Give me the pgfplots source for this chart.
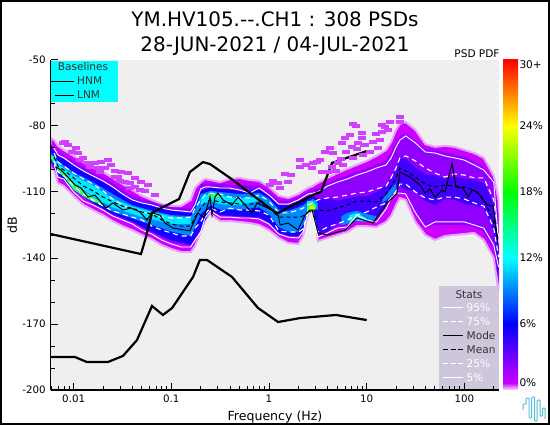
\documentclass[border=0pt]{standalone}
\usepackage{pgfplots}
\usepackage{pgfplotstable}
\usepackage{fontspec}
\setmainfont{DejaVu Sans}
\pgfplotsset{compat=1.18}
\definecolor{cPale}{HTML}{E8A0FF}
\definecolor{cMag}{HTML}{CC00FF}
\definecolor{cSpk}{HTML}{D040FF}
\definecolor{cVio}{HTML}{9000FF}
\definecolor{cBlu}{HTML}{1400FF}
\definecolor{cBl2}{HTML}{4000FF}
\definecolor{cDod}{HTML}{0088FF}
\definecolor{cCya}{HTML}{00E8FF}
\definecolor{cGre}{HTML}{30FF70}
\definecolor{cYel}{HTML}{E0FF00}
\definecolor{cBg}{HTML}{EFEFEF}
\definecolor{cStat}{HTML}{CCC5DA}
\definecolor{cLogo}{HTML}{55BCD8}
\definecolor{cDark}{HTML}{333333}
\definecolor{cBox}{RGB}{0,255,255}

% percentile statistics: frequency, 95, 75, mean, 25, 5 (dB)
\pgfplotstableread{
f p95 p75 mean p25 p5
0.00631 -90 -92.3 -94.1 -95.9 -97.7
0.0069 -93.2 -96.4 -98.2 -100.9 -103.2
0.00794 -94.5 -98.2 -100 -102.7 -104.1
0.01 -97.7 -101.4 -103.6 -107.3 -110
0.0126 -100.5 -104.1 -107.3 -110.9 -114.1
0.0158 -102.7 -106.4 -109.5 -113.6 -115.9
0.02 -105 -109.5 -112.3 -116.4 -118.2
0.0251 -107.7 -113.2 -114.5 -118.6 -120.9
0.0316 -110.9 -115.9 -116.4 -120 -122.7
0.0398 -113.6 -117.7 -117.3 -121.4 -124.5
0.0501 -115 -119.1 -119.1 -122.7 -127.3
0.0631 -115.9 -120 -120 -125.5 -129.1
0.0794 -117.3 -121.4 -122.7 -127.3 -131.8
0.1 -118.2 -121.8 -124.5 -128.6 -133.6
0.126 -118.6 -121.8 -125.5 -130 -135
0.158 -119.1 -121.4 -125.5 -130 -135
0.175 -115.9 -117.3 -121.4 -126.4 -131.8
0.2 -108.6 -113.6 -117.3 -123.6 -128.2
0.221 -107.7 -111.4 -115 -120 -121.8
0.251 -107.7 -110.5 -113.6 -117.3 -118.6
0.316 -108.2 -110.9 -114.5 -119.1 -121.4
0.398 -108.2 -112.3 -115 -117.3 -121.4
0.501 -109.1 -112.7 -115.5 -118.2 -121.8
0.631 -110.5 -112.7 -115.5 -118.2 -121.8
0.794 -108.2 -111.4 -115 -118.6 -122.3
1 -111.4 -114.1 -117.3 -120.5 -124.5
1.26 -115.5 -119.5 -121.4 -127.7 -129.1
1.58 -115.5 -119.5 -121.4 -128.2 -130.5
2 -113.6 -118.2 -121.4 -128.2 -130.9
2.23 -112.3 -117.3 -120.9 -126.8 -128.2
2.51 -110.9 -115.9 -119.1 -118.5 -119.1
2.82 -110.5 -115 -118.2 -119.5 -120.5
3.16 -110 -113.6 -118.2 -128.2 -130.5
3.98 -107.3 -112.7 -118.6 -125.9 -128.6
5.01 -105.5 -112.3 -117.3 -124.5 -126.4
6.31 -104.1 -111.4 -115.9 -122.7 -125.9
7.94 -102.3 -110.5 -114.1 -120.5 -120.5
10 -100.9 -110 -114.1 -119.1 -122.7
12.6 -99.1 -108.6 -114.5 -116.8 -123.6
15.8 -97.7 -107.3 -110.9 -115 -117.7
17.8 -94.5 -103.6 -107.3 -112.7 -112.7
20 -89.5 -99.1 -103.6 -109.5 -110.5
21.9 -86.4 -94.5 -99.1 -106.4 -110.5
25.1 -84.5 -93.6 -100.5 -106.4 -110.9
31.6 -87.7 -95.9 -103.2 -110 -119.5
39.8 -91.8 -99.1 -106.4 -112.7 -125.9
50.1 -92.3 -101.4 -107.7 -113.6 -123.6
63.1 -93.6 -103.2 -106.8 -112.3 -123.6
79.4 -94.5 -101.8 -107.3 -112.3 -123.6
100 -95.5 -102.3 -107.7 -113.2 -123.6
126 -97.7 -103.6 -109.1 -115 -125
158 -100 -103.6 -113.2 -116.4 -126.4
200 -105.5 -113.6 -123.6 -126.4 -134.1
224 -133.2 -130.5 -131.8 -139.5 -144.1
}\tabStat

\pgfplotstableread{
f db
0.00659 -98.6
0.00741 -100
0.00874 -103.2
0.0103 -106.8
0.0119 -108.2
0.014 -112.3
0.0165 -111.4
0.0214 -117.3
0.0252 -115
0.032 -118.2
0.0386 -117.3
0.0478 -119.1
0.0563 -122.7
0.0634 -119.5
0.0765 -120.5
0.0861 -124.1
0.104 -126.4
0.155 -127.7
0.187 -119.5
0.216 -121.8
0.249 -112.3
0.261 -120.5
0.28 -112.3
0.301 -110.5
0.338 -113.6
0.418 -115.9
0.482 -112.3
0.67 -119.5
0.753 -115
1.07 -118.2
1.24 -120.5
1.3 -125
1.57 -124.1
1.98 -127.3
2.34 -120.5
2.63 -118.2
2.76 -118.2
3.18 -128.6
3.93 -129.5
6 -127.3
6.75 -125
7.96 -121.8
11.6 -124.1
16.2 -115
20.5 -110.5
21.9 -100.9
27.8 -103.2
35.2 -106.8
39.6 -110.5
44.5 -108.6
50.1 -112.3
59.1 -109.1
63.4 -110
74.8 -96.8
82.2 -107.7
97 -108.2
109 -112.3
120 -109.1
135 -110
171 -115.9
197 -116.4
221 -133.2
}\tabMode

\pgfplotstableread{
f db
0.00582 -129.1
0.0489 -138.2
0.055 -130.5
0.0634 -119.5
0.0713 -118.2
0.12 -113.2
0.155 -100.9
0.211 -96.4
0.249 -97.3
0.399 -103.6
1.15 -119.1
1.24 -119.5
3.1 -110.5
3.41 -110
4.42 -96.8
10 -91.4
}\tabHNM

\pgfplotstableread{
f db
0.00582 -185
0.0103 -185
0.0137 -187.3
0.0224 -187.3
0.032 -184.5
0.0445 -177.3
0.0634 -161.8
0.082 -165.9
0.102 -162.7
0.167 -148.6
0.196 -140.9
0.232 -140.9
0.418 -148.6
0.771 -162.7
1.24 -169.1
2.08 -167.3
4.85 -165.9
10 -168.2
}\tabLNM

% scattered low-probability PDF cells above the main body
\pgfplotstableread{
f db
0.00815 -87.3
0.00874 -88.6
0.0106 -90
0.0111 -92.3
0.0125 -94.5
0.014 -96.8
0.0165 -96.8
0.0191 -96.4
0.0224 -95.5
0.0241 -97.7
0.0177 -99.1
0.0305 -100.9
0.036 -101.4
0.0284 -103.2
0.0425 -103.6
0.0489 -105.5
0.0577 -106.8
0.0335 -105.5
0.0425 -107.7
0.00776 -87.7
0.0096 -91.8
0.0116 -95.5
0.0147 -98.6
0.0186 -100.9
0.0209 -99.1
0.0265 -100.5
0.0265 -103.2
0.0298 -105
0.0377 -105.9
0.0377 -108.2
0.0478 -109
0.0537 -109.5
0.068 -111.4
1.02 -106.8
1.24 -105.9
1.1 -105
1.3 -108.2
1.46 -101.8
1.68 -102.3
1.57 -105.5
2.08 -98.6
2.39 -97.7
2.82 -96.8
2.08 -95.5
2.76 -99.1
3.1 -96.4
3.33 -95.5
3.74 -91.8
4.22 -90
4.52 -92.3
5.6 -87.7
6 -85.5
6.75 -84.1
7.25 -79.1
7.78 -80
7.08 -89.5
8.15 -87.7
8.96 -85.5
8.96 -83.2
11.6 -87.3
13.7 -86.4
14.4 -82.7
16.6 -81.8
15.4 -80.5
17.3 -78.2
21.9 -75.9
21.9 -78.2
14.4 -79.5
10.8 -91.8
9.18 -93.2
7.25 -94.5
5.72 -97.7
5.09 -96.8
4.42 -98.6
3.49 -100.9
6.15 -91.8
13.1 -90
4 -101
4.8 -100.5
5.5 -95
8 -90.5
9.5 -88.5
12.5 -83.5
}\tabSpeck

% density regions as closed outlines: frequency, dB
\pgfplotstableread{
f db
0.00582 -85.5
0.00631 -86.4
0.0069 -89
0.00794 -90.9
0.01 -93.6
0.0126 -96.4
0.0158 -98.6
0.02 -100.9
0.0251 -103.6
0.0316 -106.4
0.0398 -109.1
0.0501 -111.8
0.0631 -113.6
0.0794 -115.5
0.1 -116.4
0.126 -116.4
0.158 -113.6
0.175 -108.2
0.2 -105.5
0.221 -104.1
0.251 -104.5
0.316 -105.5
0.398 -104.1
0.501 -103.6
0.631 -104.5
0.794 -105
1 -107.7
1.26 -111.8
1.58 -112.7
2 -110.9
2.23 -109.5
2.51 -108.2
2.82 -107.3
3 -106.5
3.16 -105.9
3.98 -103.6
5.01 -101.4
6.31 -99.5
7.94 -97.7
10 -95.9
12.6 -93.6
15.8 -90.9
17.8 -87.3
20 -81.8
21.9 -79
25.1 -78.2
31.6 -81.8
39.8 -88.2
50.1 -89.5
63.1 -89
79.4 -89.5
100 -90.9
126 -92.3
158 -94.5
200 -102.7
224 -113.6
224 -155.5
200 -140
158 -131.8
126 -128.6
100 -129.1
79.4 -129.5
63.1 -130
50.1 -131.8
39.8 -129.5
31.6 -123.6
25.1 -113.6
21.9 -112.7
20 -115.9
17.8 -120.9
15.8 -123.6
12.6 -125.9
10 -125.5
7.94 -125.5
6.31 -128.2
5.01 -129.5
3.98 -130.9
3.16 -132.3
3 -122
2.82 -119.5
2.51 -120
2.23 -130
2 -133.6
1.58 -133.2
1.26 -130.9
1 -127.3
0.794 -125
0.631 -124.1
0.501 -123.6
0.398 -123.2
0.316 -123.2
0.251 -120
0.221 -122.7
0.2 -128.2
0.175 -134.5
0.158 -137.3
0.126 -137.3
0.1 -135.9
0.0794 -134.1
0.0631 -131.4
0.0501 -129.5
0.0398 -127.3
0.0316 -125.5
0.0251 -123.2
0.02 -120.5
0.0158 -118.2
0.0126 -115.9
0.01 -111.8
0.00794 -107.3
0.0069 -105.9
0.00631 -100
0.00582 -99
}\tabE

\pgfplotstableread{
f db
0.00582 -88.2
0.0069 -91.8
0.01 -96
0.0158 -101.4
0.0251 -106
0.0398 -112
0.0631 -114.5
0.1 -117
0.158 -117.5
0.175 -113
0.2 -106.5
0.251 -106
0.316 -106.5
0.501 -107
0.794 -107
1 -110
1.26 -114
1.58 -114
2 -112.5
2.23 -111
2.51 -110
2.82 -109
3.16 -108.5
3.98 -106
5.01 -104
6.31 -102.5
7.94 -100.5
10 -99.5
12.6 -97.5
15.8 -95.5
17.8 -92
20 -87.5
21.9 -84.5
25.1 -83.5
31.6 -86.5
39.8 -90.5
50.1 -91
63.1 -92
100 -94
126 -96
158 -99
200 -104.5
224 -120
224 -150
200 -136
158 -128
126 -126
100 -125
63.1 -125
50.1 -125
39.8 -126
31.6 -120
25.1 -111
21.9 -110.5
20 -110.5
17.8 -113
15.8 -118
12.6 -124
10 -123
7.94 -122
6.31 -126
5.01 -126.5
3.98 -128.5
3.16 -130.5
2.82 -119.5
2.51 -119
2.23 -128
2 -131
1.58 -130.5
1.26 -129
1 -124.5
0.794 -122
0.501 -121.5
0.316 -121
0.251 -118.2
0.2 -127.5
0.175 -131.5
0.158 -134.5
0.1 -133
0.0631 -128.6
0.0398 -124
0.0251 -120.5
0.0158 -115.5
0.01 -109.5
0.0069 -102.7
0.00582 -97
}\tabV

\pgfplotstableread{
f db
0.00582 -90
0.0069 -93.5
0.01 -98
0.0158 -103
0.0251 -108
0.0398 -113.5
0.0631 -116
0.1 -118.5
0.158 -119.5
0.175 -116
0.2 -109.5
0.251 -108
0.316 -108.5
0.501 -109.5
0.794 -109
1 -112
1.26 -116
1.58 -116
2 -114.5
2.23 -113.5
2.51 -113
2.82 -112
3.16 -113
3.16 -130
2.82 -119.5
2.51 -119
2.23 -127.5
2 -130
1.58 -130
1.26 -128.5
1 -124
0.794 -121.5
0.501 -121
0.316 -120.5
0.251 -118
0.2 -127
0.175 -131
0.158 -134
0.1 -132
0.0631 -128
0.0398 -123.5
0.0251 -120
0.0158 -115
0.01 -109
0.0069 -102
0.00582 -95
}\tabBa

\pgfplotstableread{
f db
3.16 -113
3.98 -113
5.01 -114
6.31 -113
7.94 -112
10 -112
12.6 -110
15.8 -107
17.8 -104
20 -100
21.9 -94.5
25.1 -95
31.6 -99
39.8 -102
50.1 -102.5
63.1 -104
79.4 -103
100 -104
126 -104.5
158 -106
200 -115
224 -130
224 -152
200 -128
158 -117
126 -116
100 -115.5
79.4 -113.5
63.1 -113
50.1 -116
39.8 -114
31.6 -109.5
25.1 -109
21.9 -107
20 -109
17.8 -112
15.8 -116.5
12.6 -122
10 -122
7.94 -120.5
6.31 -123
5.01 -124
3.98 -128
3.16 -130
}\tabBb

\pgfplotstableread{
f db
0.00582 -92
0.0069 -96
0.01 -101
0.0158 -105.5
0.0251 -111
0.0398 -116
0.0631 -118.5
0.1 -120.5
0.158 -121
0.175 -118
0.2 -111
0.251 -109.5
0.316 -110
0.501 -111
0.794 -110.5
1 -113
1.26 -118
1.58 -118.5
2 -117
2.23 -116
2.51 -114.5
2.82 -113
3.16 -115
3.16 -118
2.82 -119
2.51 -118
2.23 -125
2 -128
1.58 -128
1.26 -126
1 -120
0.794 -117
0.501 -118
0.316 -118
0.251 -116
0.2 -120
0.175 -126
0.158 -130
0.1 -128
0.0631 -125
0.0398 -122
0.0251 -119
0.0158 -114
0.01 -108
0.0069 -100
0.00582 -95
}\tabD

\pgfplotstableread{
f db
5.5 -121
6.31 -119.5
7.94 -118.5
10 -120
12.6 -121
12.6 -122.5
10 -123
7.94 -122.5
6.31 -124.5
5.5 -125
}\tabDb

\pgfplotstableread{
f db
14.5 -113.5
17.8 -108.5
20 -106
20 -108.5
17.8 -112
14.5 -115
}\tabDc

\pgfplotstableread{
f db
0.00582 -93
0.0069 -97
0.01 -102.5
0.0158 -107
0.0251 -113
0.0398 -116.5
0.0631 -119
0.1 -121
0.158 -122
0.158 -124.5
0.1 -124.5
0.0631 -122.5
0.0398 -120
0.0251 -117
0.0158 -112
0.01 -106
0.0069 -100
0.00582 -94.5
}\tabCa

\pgfplotstableread{
f db
0.2 -113
0.251 -110.5
0.316 -111.5
0.501 -113
0.794 -112
0.794 -114
0.501 -116
0.316 -115.5
0.251 -114
0.2 -116
}\tabCb

\pgfplotstableread{
f db
2.45 -114
2.82 -114
3.05 -116
3.05 -117
2.82 -118
2.45 -117
}\tabCc

\pgfplotstableread{
f db
6.6 -120.5
7.94 -119.5
10 -122
10 -123.5
7.94 -123
6.6 -123.5
}\tabCd

\pgfplotstableread{
f db
0.00582 -93.5
0.0065 -94
0.0065 -95
0.00582 -95
}\tabGa

\pgfplotstableread{
f db
0.0069 -99
0.00794 -100.5
0.01 -106
0.0126 -109.5
0.0158 -112.5
0.02 -114.5
0.02 -115.5
0.0158 -114.5
0.0126 -112
0.01 -109
0.00794 -103
0.0069 -101
}\tabGb

\pgfplotstableread{
f db
2.45 -115
2.75 -114.5
3 -116
3 -118
2.75 -119
2.45 -118.5
}\tabGc

\pgfplotstableread{
f db
0.24 -110.5
0.28 -110.5
0.31 -112
0.31 -113
0.28 -113
0.24 -112
}\tabGd

\pgfplotstableread{
f db
2.6 -116.5
2.8 -116
2.95 -117
2.95 -118
2.8 -118.5
2.6 -118
}\tabY

\newcommand{\band}[2]{%
  \addplot[fill=#2,draw=none,forget plot] table[x=f,y=db]{#1} -- cycle;
}
\newcommand{\PX}[2]{(rel axis cs:{(#1-50.7)/448.6},{(390-#2)/330})}
\newcommand{\sz}{\fontsize{10.6}{12}\selectfont}
\definecolor{cb0}{RGB}{250,225,255}
\definecolor{cb1}{RGB}{204,0,255}
\definecolor{cb2}{RGB}{0,0,255}
\definecolor{cb3}{RGB}{0,255,255}
\definecolor{cb4}{RGB}{0,255,0}
\definecolor{cb5}{RGB}{255,255,0}
\definecolor{cb6}{RGB}{255,0,0}

\begin{document}
\begin{tikzpicture}
\path[use as bounding box] (-50.7bp,-35bp) rectangle (499.3bp,390bp);
\begin{axis}[
  scale only axis,
  width=448.6bp, height=330bp,
  xmode=log,
  xmin=0.00582, xmax=228,
  ymin=-200, ymax=-50,
  axis background/.style={fill=cBg},
  axis on top,
  axis line style={line width=1.4bp},
  axis x line*=bottom, axis y line*=left,
  tick align=inside,
  major tick length=7.5bp, minor tick length=4bp,
  tick style={black,line width=1bp},
  xtick={0.01,0.1,1,10,100},
  xticklabels={0.01,0.1,1,10,100},
  minor xtick={0.006,0.007,0.008,0.009,0.02,0.03,0.04,0.05,0.06,0.07,0.08,0.09,0.2,0.3,0.4,0.5,0.6,0.7,0.8,0.9,2,3,4,5,6,7,8,9,20,30,40,50,60,70,80,90,200},
  ytick={-200,-170,-140,-110,-80,-50},
  yticklabels={-200,-170,-140,-110,-80,-50},
  minor ytick={-190,-180,-160,-150,-130,-120,-100,-90,-70,-60},
  tick label style={font=\fontsize{10.3}{12}\selectfont},
  xticklabel style={yshift=-1.5bp},
  yticklabel style={xshift=-1.5bp},
  xlabel={Frequency (Hz)}, ylabel={dB},
  xlabel style={font=\fontsize{12.6}{14}\selectfont,at={(0.5,0)},anchor=north,yshift=-17bp},
  ylabel style={font=\fontsize{12.6}{14}\selectfont,at={(0,0.5)},anchor=south,yshift=30bp},
  title={YM.HV105.{-}{-}.CH1 : 308 PSDs\\28-JUN-2021 / 04-JUL-2021},
  title style={font=\fontsize{20}{25}\selectfont,align=center,at={(0.5,1)},anchor=south,inner sep=0pt,yshift=-1.5bp},
]
\addplot[fill=cMag,draw=cPale,line width=2bp,forget plot] table[x=f,y=db]{\tabE} -- cycle;
\addplot[only marks,color=cSpk,mark=square*,mark size=1.6bp,mark options={xscale=2.2,draw=cSpk,fill=cSpk,line width=0pt},forget plot] table[x=f,y=db]{\tabSpeck};
\band{\tabV}{cVio}
\band{\tabBa}{cBlu}
\band{\tabBb}{cBl2}
\band{\tabD}{cDod}
\band{\tabDb}{cDod}
\band{\tabDc}{cDod}
\band{\tabCa}{cCya}
\band{\tabCb}{cCya}
\band{\tabCc}{cCya}
\band{\tabCd}{cCya}
\band{\tabGa}{cGre}
\band{\tabGb}{cGre}
\band{\tabGc}{cGre}
\band{\tabGd}{cGre}
\band{\tabY}{cYel}
% statistics
\addplot[white,line width=0.9bp] table[x=f,y=p95]{\tabStat};
\addplot[white,line width=1.1bp,dash pattern=on 5bp off 4bp] table[x=f,y=p75]{\tabStat};
\addplot[white,line width=1.1bp,dash pattern=on 5bp off 4bp] table[x=f,y=p25]{\tabStat};
\addplot[white,line width=0.9bp] table[x=f,y=p5]{\tabStat};
\addplot[black,line width=1bp,dash pattern=on 4bp off 3bp] table[x=f,y=mean]{\tabStat};
\addplot[black,line width=1bp] table[x=f,y=db]{\tabMode};
% baselines
\addplot[black,line width=2.2bp] table[x=f,y=db]{\tabHNM};
\addplot[black,line width=2.2bp] table[x=f,y=db]{\tabLNM};
% baselines box
\fill[cBox] \PX{50.7}{60.7} rectangle \PX{117.7}{101.7};
\node[font=\sz,text=cDark] at \PX{83}{67} {Baselines};
\draw[black,line width=0.9bp] \PX{55}{81} -- \PX{74.3}{81};
\draw[black,line width=0.9bp] \PX{55}{95} -- \PX{74.3}{95};
\node[font=\sz,text=cDark,anchor=west,inner sep=0pt] at \PX{77}{81} {HNM};
\node[font=\sz,text=cDark,anchor=west,inner sep=0pt] at \PX{77}{95} {LNM};
% stats box
\fill[cStat,fill opacity=0.93] \PX{439}{286} rectangle \PX{499.3}{390};
\node[font=\sz,text=cDark] at \PX{469}{294.5} {Stats};
\draw[white,line width=0.9bp] \PX{443}{307.5} -- \PX{463}{307.5};
\draw[white,line width=0.9bp,dash pattern=on 5bp off 2.5bp] \PX{443}{321.5} -- \PX{463}{321.5};
\draw[black,line width=0.9bp] \PX{443}{335.5} -- \PX{463}{335.5};
\draw[black,line width=0.9bp,dash pattern=on 5bp off 2.5bp] \PX{443}{349.5} -- \PX{463}{349.5};
\draw[white,line width=0.9bp,dash pattern=on 5bp off 2.5bp] \PX{443}{363.5} -- \PX{463}{363.5};
\draw[white,line width=0.9bp] \PX{443}{377.5} -- \PX{463}{377.5};
\node[font=\sz,text=white,anchor=west,inner sep=0pt] at \PX{466.5}{307.5} {95\%};
\node[font=\sz,text=white,anchor=west,inner sep=0pt] at \PX{466.5}{321.5} {75\%};
\node[font=\sz,text=cDark,anchor=west,inner sep=0pt] at \PX{466.5}{335.5} {Mode};
\node[font=\sz,text=cDark,anchor=west,inner sep=0pt] at \PX{466.5}{349.5} {Mean};
\node[font=\sz,text=white,anchor=west,inner sep=0pt] at \PX{466.5}{363.5} {25\%};
\node[font=\sz,text=white,anchor=west,inner sep=0pt] at \PX{466.5}{377.5} {5\%};
\end{axis}
% PSD PDF colour scale
\node[font=\sz] at (426.3bp,336bp) {PSD PDF};
\shade[bottom color=cb0,top color=cb1] (452.3bp,0bp) rectangle (467.3bp,7bp);
\shade[bottom color=cb1,top color=cb2] (452.3bp,7bp) rectangle (467.3bp,66bp);
\shade[bottom color=cb2,top color=cb3] (452.3bp,66bp) rectangle (467.3bp,132bp);
\shade[bottom color=cb3,top color=cb4] (452.3bp,132bp) rectangle (467.3bp,198bp);
\shade[bottom color=cb4,top color=cb5] (452.3bp,198bp) rectangle (467.3bp,264bp);
\shade[bottom color=cb5,top color=cb6] (452.3bp,264bp) rectangle (467.3bp,330bp);
\node[font=\sz,anchor=west,inner sep=0pt] at (468.6bp,7bp) {0\%};
\node[font=\sz,anchor=west,inner sep=0pt] at (468.6bp,66bp) {6\%};
\node[font=\sz,anchor=west,inner sep=0pt] at (468.6bp,132bp) {12\%};
\node[font=\sz,anchor=west,inner sep=0pt] at (468.6bp,198bp) {18\%};
\node[font=\sz,anchor=west,inner sep=0pt] at (468.6bp,264bp) {24\%};
\node[font=\sz,anchor=west,inner sep=0pt] at (468.6bp,325bp) {30+};
% figure frame
\draw[black,line width=2.4bp] (-49.5bp,-33.8bp) rectangle (498.1bp,388.8bp);
% logo
\draw[cLogo,line width=1bp,rounded corners=0.8bp]
  (472.5bp,-20bp) -- (472.5bp,-14bp) -- (475.5bp,-14bp) -- (475.5bp,-8bp) -- (478.5bp,-8bp) -- (478.5bp,-28bp) -- (481bp,-28bp) -- (481bp,-7bp) -- (484bp,-7bp) -- (484bp,-31bp) -- (486.5bp,-31bp) -- (486.5bp,-10bp) -- (489.5bp,-10bp) -- (489.5bp,-26bp) -- (492bp,-26bp) -- (492bp,-18bp) -- (494.5bp,-18bp) -- (494.5bp,-29bp);
\end{tikzpicture}
\end{document}
